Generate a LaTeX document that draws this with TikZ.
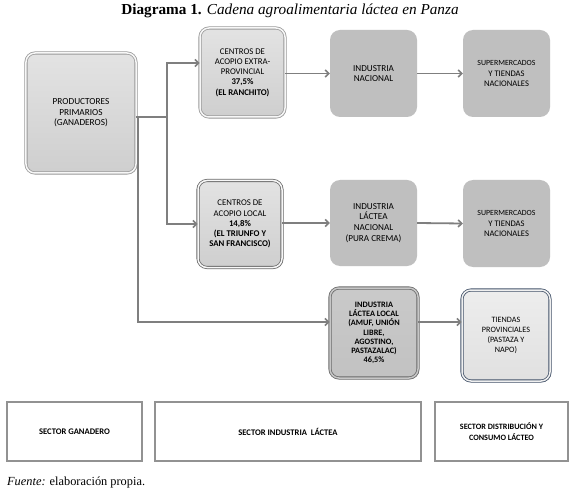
\documentclass[tikz,border=0pt]{standalone}
\usepackage{fontspec}
\setmainfont{Liberation Serif}
\newfontfamily\boxfont{Carlito}
\usetikzlibrary{arrows.meta,shadows}
\definecolor{flatgray}{HTML}{BFBFBF}
\definecolor{linegray}{HTML}{7F7F7F}
\definecolor{rimgray}{HTML}{9A9A9A}
\definecolor{darkrim}{HTML}{6A6A6A}
\definecolor{slate}{HTML}{44536A}
\tikzset{
  base/.style={align=center, inner sep=0pt, font=\boxfont\fontsize{9}{10.3}\selectfont, text=black},
  bevel/.style={base, rounded corners=9bp, draw=rimgray, double=white!94!gray, double distance=1.5bp, line width=0.8bp,
     top color=gray!22, bottom color=gray!38, drop shadow={opacity=0.35, shadow xshift=1.2bp, shadow yshift=-1.2bp}},
  flatbox/.style={base, rounded corners=10bp, fill=flatgray, font=\boxfont\fontsize{9.2}{10.8}\selectfont},
  supfont/.style={font=\boxfont\fontsize{8.6}{10.8}\selectfont},
  sectorbox/.style={base, draw=linegray!85, line width=1.3bp, font=\boxfont\bfseries\fontsize{8.6}{10.8}\selectfont},
  conn/.style={draw=linegray, line width=1.8bp},
  arr/.style={conn, -{Straight Barb[length=3.5bp, width=7bp, line width=1.6bp]}}
}
\begin{document}
\begin{tikzpicture}[x=1bp, y=-1bp]
\useasboundingbox (0,0) rectangle (575,490);
\fill[white] (0,0) rectangle (575,490);

% title
\node[font=\fontsize{15.3}{17}\selectfont, inner sep=0pt] (title) at (290,11)
  {\textbf{Diagrama 1.} \textit{Cadena agroalimentaria láctea en Panza}};

% column 1
\node[bevel, minimum width=110bp, minimum height=120bp, font=\boxfont\fontsize{9.3}{10.5}\selectfont] (prod) at (81,113)
  {PRODUCTORES\\PRIMARIOS\\(GANADEROS)};

% row 1
\node[bevel, minimum width=85bp, minimum height=89bp, font=\boxfont\fontsize{8.8}{10.2}\selectfont] (cext) at (242.5,72.5)
  {CENTROS DE\\ACOPIO EXTRA-\\PROVINCIAL\\\textbf{37,5\%}\\\textbf{(EL RANCHITO)}};
\node[flatbox, minimum width=87bp, minimum height=87bp] (inac) at (373.5,73.5)
  {INDUSTRIA\\NACIONAL};
\node[flatbox, supfont, minimum width=87bp, minimum height=87bp] (sup1) at (506.5,73.5)
  {{\fontsize{7.9}{10.8}\selectfont SUPERMERCADOS}\\Y TIENDAS\\NACIONALES};

% row 2
\node[bevel, draw=darkrim, minimum width=84bp, minimum height=87bp, font=\boxfont\fontsize{8.8}{10.2}\selectfont] (cloc) at (240,224)
  {CENTROS DE\\ACOPIO LOCAL\\\textbf{14,8\%}\\\textbf{(EL TRIUNFO Y}\\\textbf{SAN FRANCISCO)}};
\node[flatbox, minimum width=87bp, minimum height=86bp] (ilnac) at (373.5,223)
  {INDUSTRIA\\LÁCTEA\\NACIONAL\\(PURA CREMA)};
\node[flatbox, supfont, minimum width=87bp, minimum height=87bp] (sup2) at (506.5,223.5)
  {{\fontsize{7.9}{10.8}\selectfont SUPERMERCADOS}\\Y TIENDAS\\NACIONALES};

% row 3
\node[bevel, draw=darkrim, double=gray!45, top color=gray!42, bottom color=gray!48, minimum width=88bp, minimum height=90bp,
      font=\boxfont\bfseries\fontsize{8.3}{9.3}\selectfont] (illoc) at (374,333)
  {INDUSTRIA\\LÁCTEA LOCAL\\(AMUF, UNIÓN\\LIBRE,\\AGOSTINO,\\PASTAZALAC)\\46,5\%};
\node[bevel, draw=slate, double=gray!12, top color=gray!14, bottom color=gray!24, minimum width=88bp, minimum height=91bp,
      font=\boxfont\fontsize{8.2}{10}\selectfont] (tiend) at (506,335.5)
  {TIENDAS\\PROVINCIALES\\(PASTAZA Y\\NAPO)};

% sectors
\node[sectorbox, minimum width=135bp, minimum height=59bp] (sec1) at (74.5,431.5) {SECTOR GANADERO};
\node[sectorbox, minimum width=266bp, minimum height=59bp] (sec2) at (288,431.5) {SECTOR INDUSTRIA\ \ LÁCTEA};
\node[sectorbox, minimum width=133bp, minimum height=59bp, font=\boxfont\bfseries\fontsize{8.2}{10.8}\selectfont] (sec3) at (501.5,431.5) {SECTOR DISTRIBUCIÓN Y\\CONSUMO LÁCTEO};

% source
\node[anchor=west, font=\fontsize{12.4}{14}\selectfont, inner sep=0pt] (src) at (7,483)
  {\textit{Fuente:} elaboración propia.};

% connectors
\coordinate (a1) at (138,117);
\coordinate (j1) at (167,117);
\coordinate (t1) at (167,63);
\coordinate (b3) at (138,322);
\draw[conn] (prod.east |- a1) -- (j1);
\draw[arr] (j1) -- (t1) -- (cext.west |- t1);
\draw[arr] (j1) |- (cloc.west);
\draw[arr] (a1) -- (b3) -- (illoc.west |- b3);
\draw[arr] (cext.east |- inac.west) -- (inac.west);
\draw[arr] (inac.east) -- (sup1.west);
\draw[arr] (cloc.east |- ilnac.west) -- (ilnac.west);
\draw[arr] (ilnac.east) -- (sup2.west);
\draw[arr] (illoc.east |- b3) -- (tiend.west |- b3);
\end{tikzpicture}
\end{document}
